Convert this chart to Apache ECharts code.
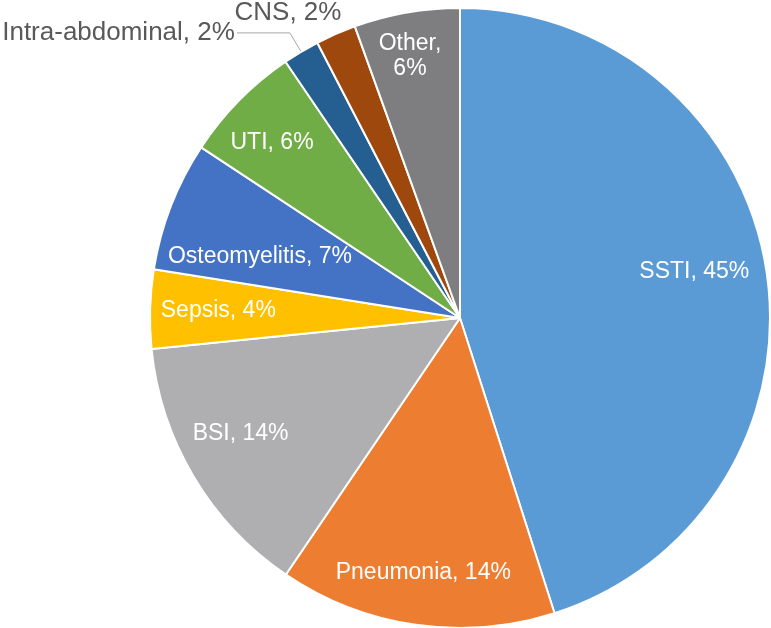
<!DOCTYPE html>
<html>
<head>
<meta charset="utf-8">
<script src="https://cdn.jsdelivr.net/npm/echarts@6/dist/echarts.min.js"></script>
<style>
html,body{margin:0;padding:0;background:#fff;}
#chart{width:771px;height:628px;}
</style>
</head>
<body>
<div id="chart"></div>
<script>
// Data
var categories = ['SSTI', 'Pneumonia', 'BSI', 'Sepsis', 'Osteomyelitis', 'UTI', 'Intra-abdominal', 'CNS', 'Other'];
var values = [45, 14.4, 13.9, 4.1, 6.75, 6.2, 1.9, 2.1, 5.5];

// Styles
var colors = ['#5B9BD5', '#ED7D31', '#AFAFB1', '#FFC000', '#4472C4', '#70AD47', '#255E91', '#9E480E', '#7E7E80'];
// label placement: [angle offset from slice middle (deg), radius fraction]
var labelPlace = [[-2.2, 0.77], [0, 0.83], [3, 0.80], [0, 0.78], [-4.2, 0.675], [-1.5, 0.83], null, [-5.8, 1.13], [-0.9, 0.86]];
var outsideIdx = [6, 7];

var CX = 460, CY = 318, R = 310;
var total = values.reduce(function (a, b) { return a + b; }, 0);
var midAngles = [];
(function () {
  var c = 0;
  values.forEach(function (v) { midAngles.push((c + v / 2) / total * 360); c += v; });
})();

var chart = echarts.init(document.getElementById('chart'));
var data = categories.map(function (name, i) {
  var item = { name: name, value: values[i], itemStyle: { color: colors[i] } };
  if (outsideIdx.indexOf(i) >= 0) {
    item.label = { position: i === 6 ? 'outside' : 'inside', color: '#595959', fontSize: 26, distanceToLabelLine: 2 };
    item.labelLine = { show: i === 6 };
  }
  return item;
});

chart.setOption({
  animation: false,
  series: [{
    type: 'pie',
    center: [CX, CY],
    radius: [0, R],
    startAngle: 90,
    clockwise: true,
    avoidLabelOverlap: false,
    itemStyle: { borderColor: '#ffffff', borderWidth: 2 },
    label: {
      show: true,
      position: 'inside',
      color: '#ffffff',
      fontFamily: 'Liberation Sans, Arial, sans-serif',
      fontSize: 23,
      lineHeight: 25,
      formatter: function (p) {
        var pct = Math.round(p.value / total * 100) + '%';
        if (p.name === 'Other') return p.name + ',\n' + pct;
        return p.name + ', ' + pct;
      }
    },
    labelLine: {
      show: false,
      length: 22,
      length2: 53,
      lineStyle: { color: '#A6A6A6', width: 1 }
    },
    labelLayout: function (p) {
      var pl = labelPlace[p.dataIndex];
      if (!pl) return {};
      var a = (midAngles[p.dataIndex] + pl[0]) * Math.PI / 180;
      var r = R * pl[1];
      return {
        x: CX + r * Math.sin(a),
        y: CY - r * Math.cos(a),
        align: 'center',
        verticalAlign: 'middle'
      };
    },
    data: data
  }]
});
</script>
</body>
</html>
